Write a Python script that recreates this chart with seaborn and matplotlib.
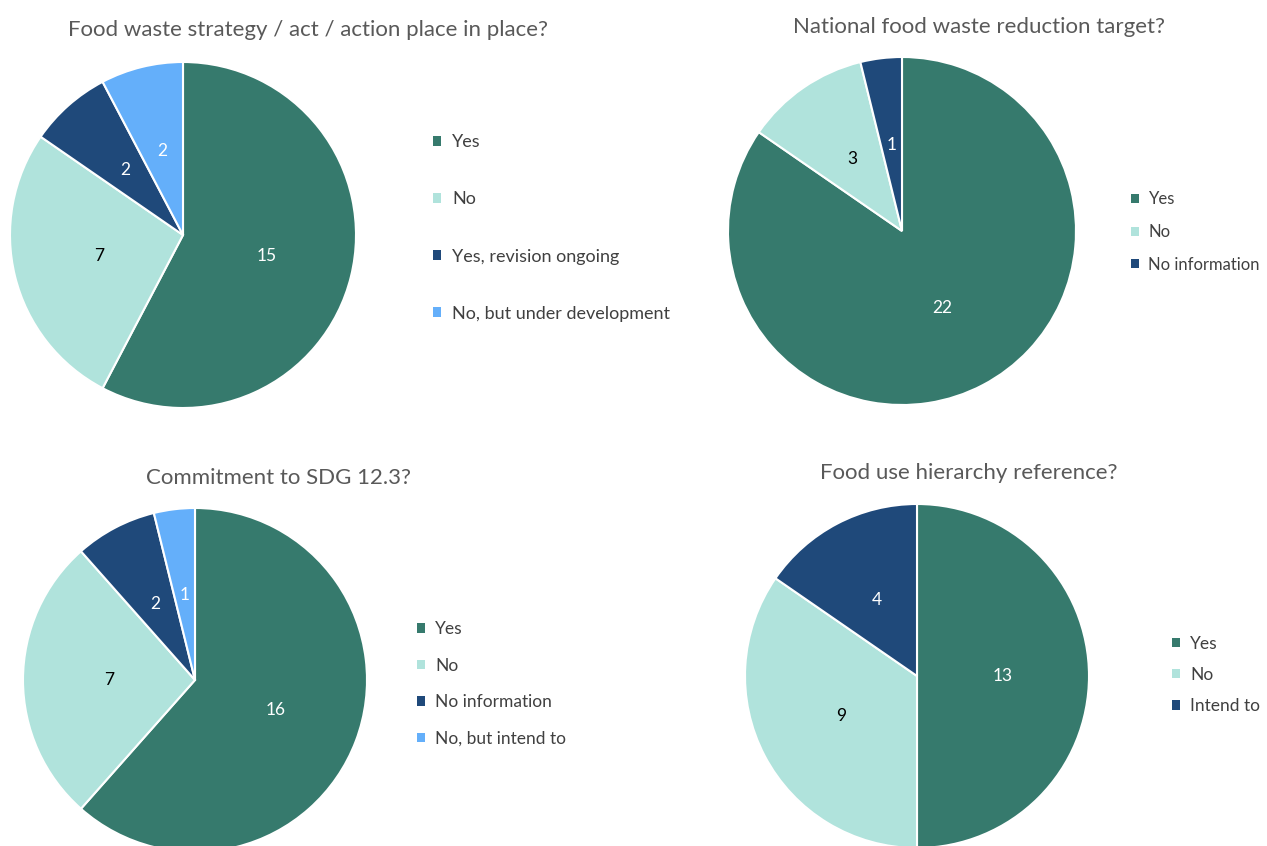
import matplotlib
matplotlib.use("Agg")
from matplotlib import pyplot as plt
from matplotlib.patches import Patch
import seaborn as sns

# chart data
strategy_labels = ["Yes", "No", "Yes, revision ongoing", "No, but under development"]
strategy_counts = [15, 7, 2, 2]

target_labels = ["Yes", "No", "No information"]
target_counts = [22, 3, 1]

sdg_labels = ["Yes", "No", "No information", "No, but intend to"]
sdg_counts = [16, 7, 2, 1]

hierarchy_labels = ["Yes", "No", "Intend to"]
hierarchy_counts = [13, 9, 4]

# canvas in pixels
W, H = 1267, 846

sns.set_theme(style="white")
plt.rcParams["font.family"] = ["Lato", "DejaVu Sans"]

palette = sns.color_palette(["#367A6D", "#B0E3DC", "#1F497A", "#64AFFA"])
value_colors = ["white", "black", "white", "white"]

fig = plt.figure(figsize=(W / 100, H / 100), dpi=100)
fig.patch.set_facecolor("white")


def draw_pie(title, labels, counts, center, radius, title_xy, legend_xy,
             spacing, legend_size=13):
    """ Draws one pie with its title and legend, positions given in pixels. """
    cx, cy = center
    pad = radius * 1.02
    ax = fig.add_axes([(cx - pad) / W, 1 - (cy + pad) / H, 2 * pad / W, 2 * pad / H])
    colors = palette[:len(counts)]
    wedges, texts = ax.pie(counts, colors=colors, startangle=90, counterclock=False,
                           labels=[str(c) for c in counts], labeldistance=0.5,
                           wedgeprops=dict(edgecolor="white", linewidth=1.5),
                           textprops=dict(fontsize=12.5))
    for t, c in zip(texts, value_colors):
        t.set_color(c)
        t.set_ha("center")
        t.set_va("center")
    ax.set_xlim(-1.02, 1.02)
    ax.set_ylim(-1.02, 1.02)
    ax.set_aspect("equal")

    # title
    fig.text(title_xy[0] / W, 1 - title_xy[1] / H, title, ha="center",
             va="center", fontsize=16, color="#595959")

    # legend
    handles = [Patch(facecolor=c, edgecolor="none") for c in colors]
    fig.legend(handles, labels, loc="center left",
               bbox_to_anchor=(legend_xy[0] / W, 1 - legend_xy[1] / H),
               frameon=False, fontsize=legend_size, labelspacing=spacing,
               handlelength=0.45, handleheight=0.45, handletextpad=0.6,
               borderpad=0, borderaxespad=0, labelcolor="#404040")


draw_pie("Food waste strategy / act / action place in place?",
         strategy_labels, strategy_counts, (183, 235), 173,
         (308, 30), (433, 228), 2.28)
draw_pie("National food waste reduction target?",
         target_labels, target_counts, (902, 231), 174,
         (979, 27), (1131, 232), 1.0, 12)
draw_pie("Commitment to SDG 12.3?",
         sdg_labels, sdg_counts, (195, 680), 172,
         (278, 478), (417, 684), 1.18, 12.5)
draw_pie("Food use hierarchy reference?",
         hierarchy_labels, hierarchy_counts, (917, 676), 172,
         (969, 473), (1172, 675), 0.87, 12.5)

plt.savefig("out.png", dpi=100, facecolor="white")
